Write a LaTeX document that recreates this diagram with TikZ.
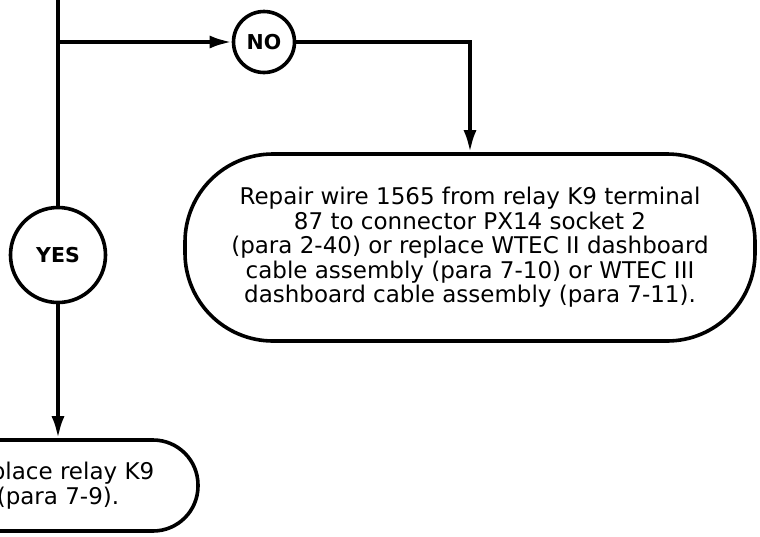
\documentclass[tikz,border=0pt]{standalone}
\usepackage{fontspec}
\setmainfont{DejaVu Sans}
\usetikzlibrary{shapes.geometric, arrows.meta}

\begin{document}
\begin{tikzpicture}[x=1pt, y=-1pt, node distance=213pt]
\tikzstyle{startstop} = [rectangle, draw=black, line width=3.6pt, fill=white, align=center, inner sep=0pt, font=\fontsize{23}{24.5}\selectfont]
\tikzstyle{decision} = [circle, draw=black, line width=3.6pt, fill=white, inner sep=0pt, font=\bfseries\fontsize{20.5}{22}\selectfont]
\tikzstyle{line} = [line width=3.6pt]
\tikzstyle{arrow} = [line width=3.6pt, -{Latex[length=22pt, width=13pt]}]

\useasboundingbox (0,0) rectangle (760,536);

\coordinate (top) at (58,0);
\coordinate (split) at (58,42);
\node (no) [decision, minimum size=61pt] at (264,42) {NO};
\coordinate (bend) at (470,42);
\node (yes) [decision, minimum size=95pt, below of=split] {YES};
\node (repair) [startstop, minimum width=570pt, minimum height=187pt, rounded corners=88pt] at (470,247.5) {Repair wire 1565 from relay K9 terminal\\87 to connector PX14 socket 2\\(para 2-40) or replace WTEC II dashboard\\cable assembly (para 7-10) or WTEC III\\dashboard cable assembly (para 7-11).};
\node (replace) [startstop, minimum width=280pt, minimum height=91pt, rounded corners=45pt] at (58,485.5) {Replace relay K9\\(para 7-9).};

\draw [line] (top) -- (yes);
\draw [arrow] (split) -- (no);
\draw [arrow] (no) -- (bend) -- (repair);
\draw [arrow] (yes) -- (replace);
\end{tikzpicture}
\end{document}
